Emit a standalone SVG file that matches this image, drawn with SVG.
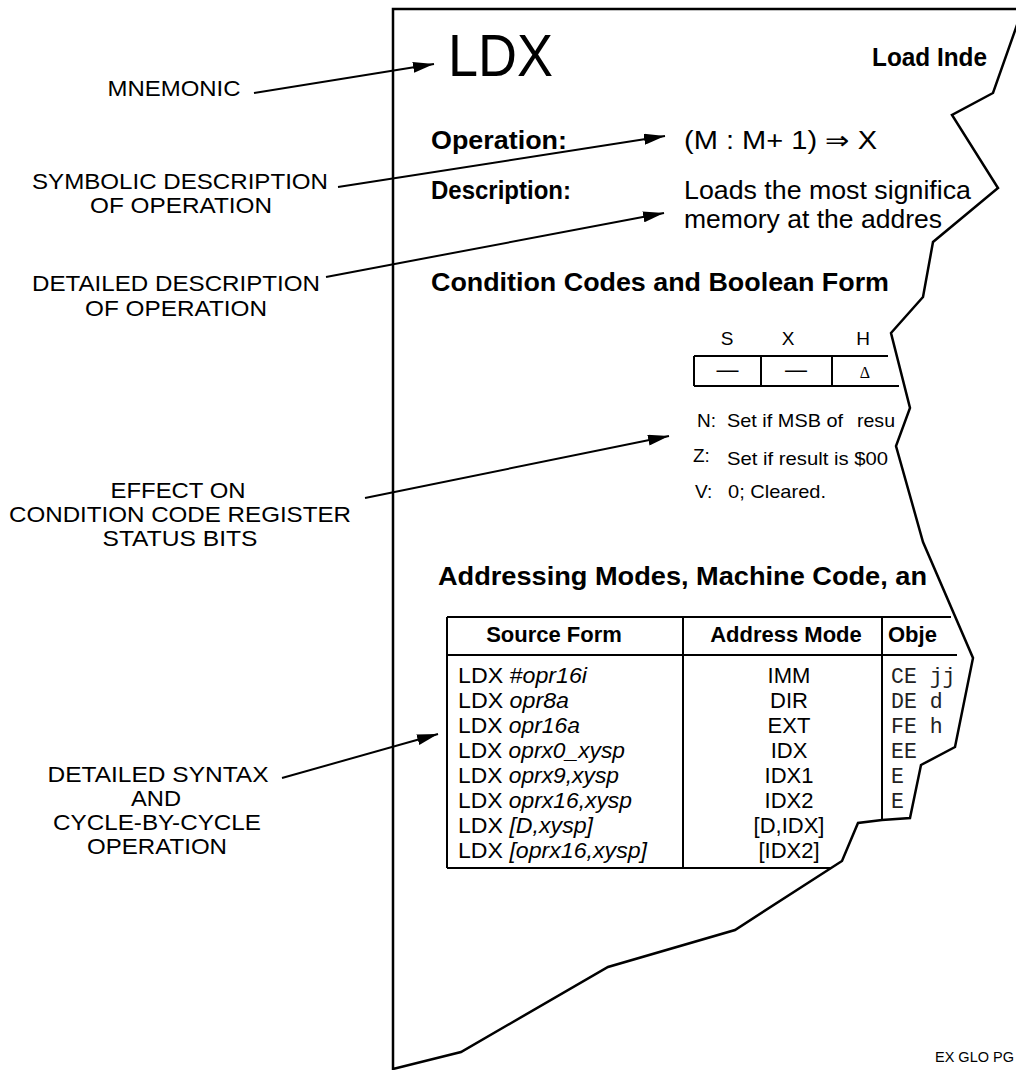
<svg xmlns="http://www.w3.org/2000/svg" width="1016" height="1070" viewBox="0 0 1016 1070">
<defs>
<style>
text{font-family:"Liberation Sans",Arial,sans-serif;fill:#000}
.lbl{font-size:21.4px;text-anchor:middle}
.h{font-weight:bold;font-size:26px}
.b{font-size:25px}
.cc{font-size:19px}
.th{font-weight:bold;font-size:22px}
.row{font-size:22px}
.am{font-size:22px;text-anchor:middle}
.mono{font-family:"Liberation Mono","Courier New",monospace;font-size:21.5px;fill:#222}
.ln{fill:none;stroke:#000;stroke-width:2}
.page{fill:none;stroke:#000;stroke-width:2.5;stroke-linejoin:miter}
.conn{stroke:#000;stroke-width:2;fill:none;marker-end:url(#ah)}
</style>
<marker id="ah" markerUnits="userSpaceOnUse" markerWidth="22" markerHeight="11" refX="21" refY="5.5" orient="auto"><path d="M0,0 L21,5.5 L0,11 Z" fill="#000"/></marker>
</defs>
<rect width="1016" height="1070" fill="#fff"/>

<g id="page">
<path class="page" d="M1018,22 L993,93 L952,115 L998,188 L933,242 L923,297 L891,333 L910,408 L896,446 L923,542 L973,658 L955,747 L921,765 L910,818 L882,820 L858,823 L842,861 L735,930 L608,967 L461,1052 L393,1069 L393,9 L1018,9"/>
</g>

<g id="labels">
<g id="lbl-mnemonic"><text class="lbl" x="174" y="96" textLength="133" lengthAdjust="spacingAndGlyphs">MNEMONIC</text></g>
<g id="lbl-symbolic"><text class="lbl" x="180" y="189" textLength="296" lengthAdjust="spacingAndGlyphs">SYMBOLIC DESCRIPTION</text><text class="lbl" x="181" y="213" textLength="182" lengthAdjust="spacingAndGlyphs">OF OPERATION</text></g>
<g id="lbl-detailed"><text class="lbl" x="176" y="291" textLength="288" lengthAdjust="spacingAndGlyphs">DETAILED DESCRIPTION</text><text class="lbl" x="176" y="316" textLength="182" lengthAdjust="spacingAndGlyphs">OF OPERATION</text></g>
<g id="lbl-effect"><text class="lbl" x="178" y="498" textLength="135" lengthAdjust="spacingAndGlyphs">EFFECT ON</text><text class="lbl" x="180" y="522" textLength="342" lengthAdjust="spacingAndGlyphs">CONDITION CODE REGISTER</text><text class="lbl" x="180" y="546" textLength="155" lengthAdjust="spacingAndGlyphs">STATUS BITS</text></g>
<g id="lbl-syntax"><text class="lbl" x="158" y="782" textLength="221" lengthAdjust="spacingAndGlyphs">DETAILED SYNTAX</text><text class="lbl" x="156" y="806" textLength="50" lengthAdjust="spacingAndGlyphs">AND</text><text class="lbl" x="157" y="830" textLength="208" lengthAdjust="spacingAndGlyphs">CYCLE-BY-CYCLE</text><text class="lbl" x="157" y="854" textLength="140" lengthAdjust="spacingAndGlyphs">OPERATION</text></g>
</g>

<g id="sheet">
<g id="mnemonic"><text x="448" y="76" font-size="60" textLength="105" lengthAdjust="spacingAndGlyphs">LDX</text></g>
<g id="title"><text class="h" x="872" y="66" font-size="22" textLength="115" lengthAdjust="spacingAndGlyphs">Load Inde</text></g>
<g id="operation">
<text class="h" x="431" y="149" textLength="136" lengthAdjust="spacingAndGlyphs">Operation:</text>
<text class="b" x="684" y="149" textLength="193" lengthAdjust="spacingAndGlyphs">(M : M+ 1) ⇒ X</text>
</g>
<g id="description">
<text class="h" x="431" y="199" textLength="140" lengthAdjust="spacingAndGlyphs">Description:</text>
<text class="b" x="684" y="199" textLength="287" lengthAdjust="spacingAndGlyphs">Loads the most significa</text>
<text class="b" x="684" y="228" textLength="258" lengthAdjust="spacingAndGlyphs">memory at the addres</text>
</g>
<g id="ccr">
<text class="h" x="431" y="291" textLength="458" lengthAdjust="spacingAndGlyphs">Condition Codes and Boolean Form</text>
<text class="cc" x="727" y="345" text-anchor="middle">S</text>
<text class="cc" x="788" y="345" text-anchor="middle">X</text>
<text class="cc" x="863" y="345" text-anchor="middle">H</text>
<path class="ln" d="M694,356 H888 M694,386 H899 M694,356 V386 M761,356 V386 M832,356 V386"/>
<text x="727.5" y="377" font-size="22" text-anchor="middle">—</text>
<text x="796" y="377" font-size="22" text-anchor="middle">—</text>
<text x="865" y="378" font-size="16" text-anchor="middle" style="font-family:'Liberation Serif',serif">Δ</text>
<text class="cc" x="697" y="427">N:</text>
<text class="cc" x="727" y="427" textLength="116" lengthAdjust="spacingAndGlyphs">Set if MSB of</text>
<text class="cc" x="857" y="427" textLength="38" lengthAdjust="spacingAndGlyphs">resu</text>
<text class="cc" x="693" y="462">Z:</text>
<text class="cc" x="727" y="465" textLength="161" lengthAdjust="spacingAndGlyphs">Set if result is $00</text>
<text class="cc" x="695" y="498">V:</text>
<text class="cc" x="728" y="498" textLength="98" lengthAdjust="spacingAndGlyphs">0; Cleared.</text>
</g>
<g id="addressing">
<text class="h" x="438" y="585" textLength="489" lengthAdjust="spacingAndGlyphs">Addressing Modes, Machine Code, an</text>
<path class="ln" d="M447,617 H951 M447,655 H957 M447,617 V868 M683,617 V868 M882,617 V820 M447,868 H831"/>
<text class="th" x="554" y="642" text-anchor="middle">Source Form</text>
<text class="th" x="786" y="642" text-anchor="middle">Address Mode</text>
<text class="th" x="888" y="642">Obje</text>
<text class="row" x="458" y="683" textLength="129" lengthAdjust="spacingAndGlyphs">LDX <tspan font-style="italic">#opr16i</tspan></text>
<text class="row" x="458" y="708" textLength="111" lengthAdjust="spacingAndGlyphs">LDX <tspan font-style="italic">opr8a</tspan></text>
<text class="row" x="458" y="733" textLength="122" lengthAdjust="spacingAndGlyphs">LDX <tspan font-style="italic">opr16a</tspan></text>
<text class="row" x="458" y="758" textLength="167" lengthAdjust="spacingAndGlyphs">LDX <tspan font-style="italic">oprx0_xysp</tspan></text>
<text class="row" x="458" y="783" textLength="161" lengthAdjust="spacingAndGlyphs">LDX <tspan font-style="italic">oprx9,xysp</tspan></text>
<text class="row" x="458" y="808" textLength="174" lengthAdjust="spacingAndGlyphs">LDX <tspan font-style="italic">oprx16,xysp</tspan></text>
<text class="row" x="458" y="833" textLength="135" lengthAdjust="spacingAndGlyphs">LDX <tspan font-style="italic">[D,xysp]</tspan></text>
<text class="row" x="458" y="858" textLength="189" lengthAdjust="spacingAndGlyphs">LDX <tspan font-style="italic">[oprx16,xysp]</tspan></text>
<text class="am" x="789" y="683">IMM</text>
<text class="am" x="789" y="708">DIR</text>
<text class="am" x="789" y="733">EXT</text>
<text class="am" x="789" y="758">IDX</text>
<text class="am" x="789" y="783">IDX1</text>
<text class="am" x="789" y="808">IDX2</text>
<text class="am" x="789" y="833">[D,IDX]</text>
<text class="am" x="789" y="858">[IDX2]</text>
<text class="mono" x="891" y="683" xml:space="preserve">CE jj</text>
<text class="mono" x="891" y="708" xml:space="preserve">DE d</text>
<text class="mono" x="891" y="733" xml:space="preserve">FE h</text>
<text class="mono" x="891" y="758">EE</text>
<text class="mono" x="891" y="783">E</text>
<text class="mono" x="891" y="808">E</text>
</g>
<g id="figref"><text x="935" y="1062" font-size="14.5">EX GLO PG</text></g>
</g>

<g id="connectors">
<path class="conn" d="M254,93 L434,64"/>
<path class="conn" d="M338,187 L665,136"/>
<path class="conn" d="M326,277 L664,213"/>
<path class="conn" d="M365,498 L669,436"/>
<path class="conn" d="M282,778 L438,734"/>
</g>
</svg>
